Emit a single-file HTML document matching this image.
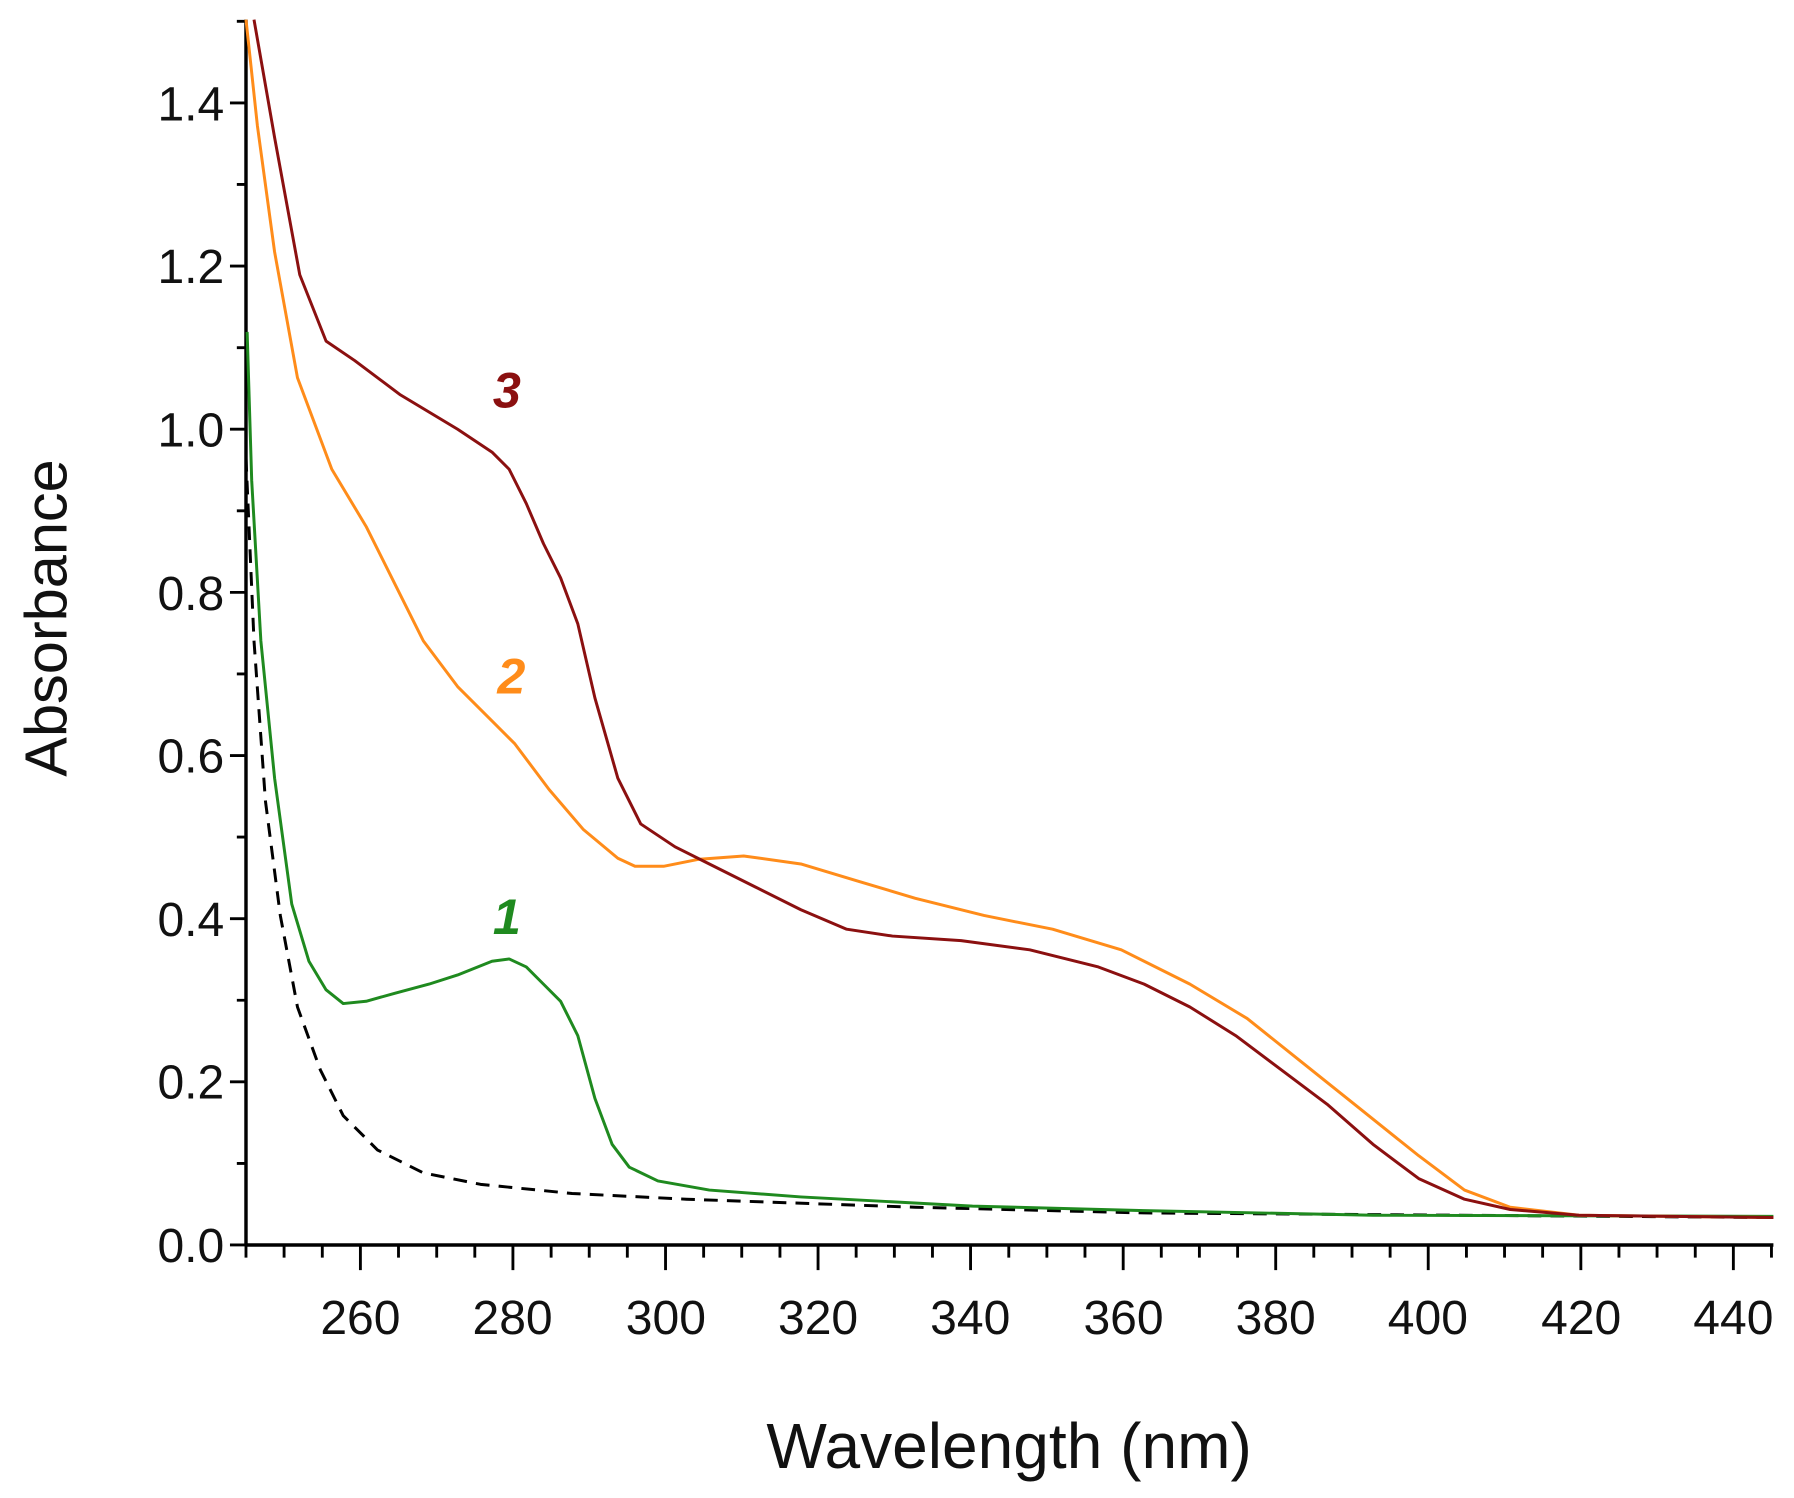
<!DOCTYPE html>
<html><head><meta charset="utf-8"><style>html,body{margin:0;padding:0;background:#fff}svg{display:block}</style></head>
<body>
<svg width="1794" height="1498" viewBox="0 0 1568 1309" xmlns="http://www.w3.org/2000/svg" font-family="Liberation Sans, sans-serif">
<g stroke="#000" stroke-width="3">
<line x1="215" y1="17" x2="215" y2="1089"/>
<line x1="214" y1="1088" x2="1550" y2="1088"/>
</g>
<path stroke="#000" stroke-width="2.5" fill="none" d="
M201,1088H215M201,945.4H215M201,802.8H215M201,660.2H215M201,517.6H215M201,375H215M201,232.4H215M201,89.8H215
M207,1016.7H215M207,874.1H215M207,731.5H215M207,588.9H215M207,446.3H215M207,303.7H215M207,161.1H215M207,18.5H215
M315,1088V1110M448.3,1088V1110M581.7,1088V1110M715,1088V1110M848.3,1088V1110M981.7,1088V1110M1115,1088V1110M1248.3,1088V1110M1381.7,1088V1110M1515,1088V1110
M215,1088V1099M248.3,1088V1099M281.7,1088V1099M348.3,1088V1099M381.7,1088V1099M415,1088V1099M481.7,1088V1099M515,1088V1099M548.3,1088V1099M615,1088V1099M648.3,1088V1099M681.7,1088V1099M748.3,1088V1099M781.7,1088V1099M815,1088V1099M881.7,1088V1099M915,1088V1099M948.3,1088V1099M1015,1088V1099M1048.3,1088V1099M1081.7,1088V1099M1148.3,1088V1099M1181.7,1088V1099M1215,1088V1099M1281.7,1088V1099M1315,1088V1099M1348.3,1088V1099M1415,1088V1099M1448.3,1088V1099M1481.7,1088V1099M1548.3,1088V1099"/>
<g font-size="42" fill="#111" text-anchor="end">
<text x="196" y="1103">0.0</text><text x="196" y="960">0.2</text><text x="196" y="818">0.4</text><text x="196" y="675">0.6</text><text x="196" y="533">0.8</text><text x="196" y="390">1.0</text><text x="196" y="247">1.2</text><text x="196" y="105">1.4</text>
</g>
<g font-size="42" fill="#111" text-anchor="middle">
<text x="315" y="1166">260</text><text x="448" y="1166">280</text><text x="582" y="1166">300</text><text x="715" y="1166">320</text><text x="848" y="1166">340</text><text x="982" y="1166">360</text><text x="1115" y="1166">380</text><text x="1248" y="1166">400</text><text x="1382" y="1166">420</text><text x="1515" y="1166">440</text>
</g>
<text x="882" y="1283" font-size="56" text-anchor="middle" fill="#111">Wavelength (nm)</text>
<text transform="translate(58,540) rotate(-90)" font-size="52" text-anchor="middle" fill="#111">Absorbance</text>
<g fill="none" stroke-width="2.6" stroke-linejoin="round">
<polyline stroke="#000" stroke-dasharray="12,8" points="215,400 222,560 232,700 245,800 260,880 280,935 300,975 330,1005 370,1025 420,1035 500,1043 600,1048 800,1055 1000,1060 1550,1064"/>
<polyline stroke="#1f8a1f" points="216,290 220,420 228,560 240,680 255,790 270,840 285,865 300,877 320,875 345,868 375,860 400,852 430,840 445,838 460,845 475,860 490,875 505,905 520,960 535,1000 550,1020 575,1032 620,1040 700,1046 850,1054 1000,1058 1200,1062 1550,1063"/>
<polyline stroke="#ff8c1a" points="215,17 225,110 240,220 260,330 290,410 320,460 345,510 370,560 400,600 430,630 450,650 480,690 510,725 540,750 555,757 580,757 610,751 650,748 700,755 750,770 800,785 860,800 920,812 980,830 1040,860 1090,890 1140,930 1190,970 1240,1010 1280,1040 1320,1055 1380,1062 1550,1064"/>
<polyline stroke="#8b1010" points="222,17 240,120 262,240 285,298 310,315 350,345 400,375 430,395 445,410 460,440 475,475 490,505 505,545 520,610 540,680 560,720 590,740 620,755 660,775 700,795 740,812 780,818 840,822 900,830 960,845 1000,860 1040,880 1080,905 1120,935 1160,965 1200,1000 1240,1030 1280,1048 1320,1057 1380,1062 1550,1064"/>
</g>
<g font-size="44" font-weight="bold" font-style="italic" text-anchor="middle">
<text x="443" y="356" fill="#8b1010">3</text>
<text x="447" y="606" fill="#ff8c1a">2</text>
<text x="443" y="816" fill="#1f8a1f">1</text>
</g>
</svg>
</body></html>
